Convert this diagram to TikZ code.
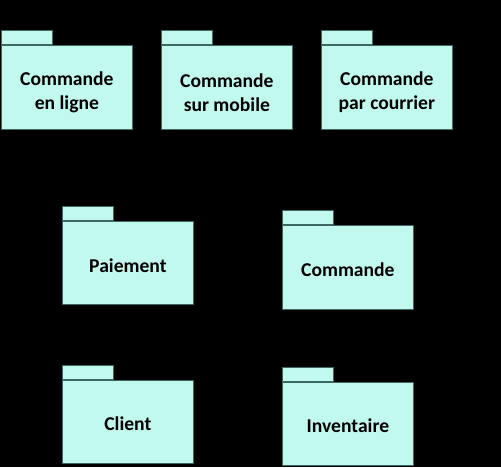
\documentclass[tikz,border=0pt]{standalone}
\usepackage{fontspec}
\setmainfont{Carlito}
\definecolor{pkgfill}{HTML}{C2F9EE}
\definecolor{pkgline}{HTML}{3C6863}
\tikzset{
  pkgbody/.style={draw=pkgline, fill=pkgfill, line width=0.75pt, anchor=north west,
    minimum width=131pt, minimum height=84pt, inner sep=0pt},
  pkgtab/.style={draw=pkgline, fill=pkgfill, line width=0.75pt, anchor=south west,
    minimum width=51pt, minimum height=14pt, inner sep=0pt},
  pkglabel/.style={align=center, font=\fontsize{19.6}{24}\selectfont\bfseries, inner sep=0pt}
}
\begin{document}
\begin{tikzpicture}[x=1pt,y=-1pt]
\fill[black] (0,0) rectangle (501,467);
\useasboundingbox (0,0) rectangle (501,467);
% top row
\node[pkgbody] (p1) at (1,45) {};
\node[pkgtab] (p1t) at (p1.north west) {};
\node[pkglabel] (p1l) at ([yshift=-5pt]p1.center) {Commande\\en ligne};
\node[pkgbody] (p2) at (161,45) {};
\node[pkgtab] (p2t) at (p2.north west) {};
\node[pkglabel] (p2l) at ([yshift=-5pt]p2.center) {Commande\\sur mobile};
\node[pkgbody] (p3) at (321,45) {};
\node[pkgtab] (p3t) at (p3.north west) {};
\node[pkglabel] (p3l) at ([yshift=-5pt]p3.center) {Commande\\par courrier};
% middle row
\node[pkgbody, minimum height=83pt] (p4) at (62,221) {};
\node[pkgtab] (p4t) at (p4.north west) {};
\node[pkglabel] (p4l) at ([yshift=-3pt]p4.center) {Paiement};
\node[pkgbody, minimum height=84pt] (p5) at (282,225) {};
\node[pkgtab] (p5t) at (p5.north west) {};
\node[pkglabel] (p5l) at ([yshift=-2pt]p5.center) {Commande};
% bottom row
\node[pkgbody, minimum height=83pt] (p6) at (62,380) {};
\node[pkgtab] (p6t) at (p6.north west) {};
\node[pkglabel] (p6l) at ([yshift=-2pt]p6.center) {Client};
\node[pkgbody, minimum height=83pt] (p7) at (282,382) {};
\node[pkgtab] (p7t) at (p7.north west) {};
\node[pkglabel] (p7l) at ([yshift=-2pt]p7.center) {Inventaire};
\end{tikzpicture}
\end{document}
